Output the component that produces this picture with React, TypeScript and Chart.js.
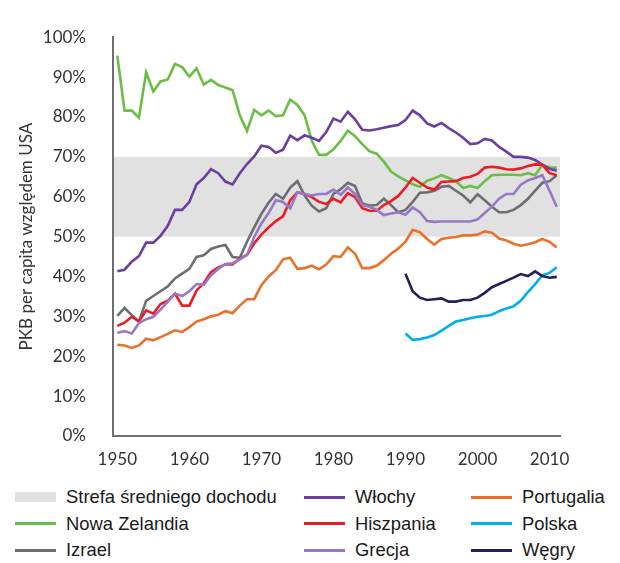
import React, { useEffect, useRef } from "react";
import { Chart, registerables } from "chart.js";

Chart.register(...registerables);

const YEARS = [
  1950, 1951, 1952, 1953, 1954, 1955, 1956, 1957, 1958, 1959,
  1960, 1961, 1962, 1963, 1964, 1965, 1966, 1967, 1968, 1969,
  1970, 1971, 1972, 1973, 1974, 1975, 1976, 1977, 1978, 1979,
  1980, 1981, 1982, 1983, 1984, 1985, 1986, 1987, 1988, 1989,
  1990, 1991, 1992, 1993, 1994, 1995, 1996, 1997, 1998, 1999,
  2000, 2001, 2002, 2003, 2004, 2005, 2006, 2007, 2008, 2009,
  2010, 2011,
];
const YEARS_FROM_1990 = [
  1990, 1991, 1992, 1993, 1994, 1995, 1996, 1997, 1998, 1999,
  2000, 2001, 2002, 2003, 2004, 2005, 2006, 2007, 2008, 2009,
  2010, 2011,
];
const X_TICKS = [1950, 1960, 1970, 1980, 1990, 2000, 2010];

const BAND_RANGE = [50, 70];

const NOWA_ZELANDIA = [
  95.4, 81.6, 81.6, 79.8, 91.2, 86.4, 88.9, 89.4, 93.3, 92.5,
  90.1, 92.2, 88.1, 89.3, 88.0, 87.4, 86.7, 80.4, 76.5, 81.8,
  80.4, 81.6, 80.2, 80.4, 84.4, 83.0, 80.4, 74.0, 70.5, 70.5,
  71.9, 74.0, 76.6, 75.2, 73.2, 71.4, 70.8, 68.8, 66.3, 65.1,
  64.1, 63.1, 62.5, 64.0, 64.6, 65.4, 64.7, 63.9, 62.2, 62.7,
  62.2, 63.9, 65.4, 65.5, 65.5, 65.5, 65.4, 65.9, 65.4, 68.0,
  67.4, 67.3,
];
const IZRAEL = [
  30.1, 32.1, 30.3, 28.7, 33.9, 35.1, 36.3, 37.5, 39.5, 40.7,
  41.9, 44.9, 45.3, 46.9, 47.5, 47.9, 44.9, 44.7, 48.7, 52.3,
  55.7, 58.5, 60.7, 59.5, 62.3, 63.9, 60.3, 57.7, 56.3, 57.1,
  60.7, 61.9, 63.5, 62.7, 58.3, 57.8, 57.9, 59.5, 57.9, 56.1,
  56.7, 58.7, 61.0, 61.1, 61.5, 62.5, 62.7, 61.5, 60.3, 58.6,
  60.6, 59.1, 57.5, 56.1, 56.1, 56.7, 57.9, 59.5, 61.5, 63.5,
  63.9, 65.4,
];
const WLOCHY = [
  41.3, 41.7, 43.7, 45.1, 48.5, 48.5, 50.2, 52.7, 56.7, 56.7,
  58.7, 63.1, 64.7, 66.9, 65.9, 63.8, 63.1, 65.9, 68.2, 70.1,
  72.8, 72.5, 71.0, 71.8, 75.3, 74.2, 75.4, 74.8, 74.0, 76.2,
  79.6, 78.8, 81.3, 79.4, 76.8, 76.6, 76.9, 77.3, 77.7, 78.0,
  79.2, 81.6, 80.4, 78.4, 77.6, 78.5, 77.2, 76.1, 74.8, 73.2,
  73.4, 74.5, 74.1, 72.5, 71.3, 70.0, 70.0, 69.8, 69.2, 68.0,
  67.0, 66.5,
];
const HISZPANIA = [
  27.6, 28.4, 29.9, 28.7, 31.5, 30.7, 33.1, 33.9, 35.7, 32.7,
  32.7, 36.5, 38.3, 41.1, 42.3, 43.0, 43.0, 44.5, 45.4, 48.3,
  50.5, 52.3, 53.9, 55.1, 59.1, 61.1, 60.7, 59.9, 58.7, 58.2,
  59.5, 58.6, 60.9, 59.9, 57.1, 56.5, 56.5, 57.9, 58.9, 60.2,
  62.3, 64.7, 63.5, 62.3, 61.8, 63.7, 63.8, 63.9, 64.7, 65.0,
  65.7, 67.3, 67.5, 67.3, 66.9, 66.8, 67.1, 67.7, 68.1, 68.0,
  65.9, 65.4,
];
const GRECJA = [
  25.9, 26.3, 25.7, 28.3, 29.3, 29.9, 31.7, 33.7, 35.7, 35.1,
  36.3, 38.1, 37.9, 40.3, 41.9, 43.1, 43.3, 44.3, 45.4, 49.9,
  53.3, 55.9, 59.1, 58.7, 57.1, 61.1, 60.7, 60.3, 60.7, 60.7,
  61.8, 60.5, 62.3, 60.7, 57.9, 57.5, 56.7, 55.4, 55.8, 56.1,
  55.5, 57.3, 56.1, 53.9, 53.7, 53.8, 53.8, 53.8, 53.8, 53.8,
  54.3, 55.9, 57.5, 59.5, 60.7, 60.7, 63.0, 64.1, 64.7, 65.4,
  61.5, 57.5,
];
const PORTUGALIA = [
  22.9, 22.7, 22.1, 22.7, 24.4, 24.0, 24.8, 25.6, 26.5, 26.1,
  27.3, 28.7, 29.3, 30.0, 30.4, 31.3, 30.8, 32.7, 34.3, 34.3,
  37.8, 40.0, 41.6, 44.3, 44.7, 41.9, 42.1, 42.7, 41.8, 43.0,
  45.1, 44.9, 47.3, 45.7, 42.1, 42.1, 42.7, 44.1, 45.7, 47.0,
  48.7, 51.7, 51.1, 49.4, 48.0, 49.4, 49.7, 49.9, 50.3, 50.3,
  50.5, 51.3, 51.0, 49.5, 49.0, 48.2, 47.7, 48.1, 48.6, 49.4,
  48.7, 47.3,
];
const POLSKA = [
  25.7, 24.1, 24.3, 24.7, 25.3, 26.4, 27.6, 28.7, 29.1, 29.5,
  29.9, 30.1, 30.4, 31.3, 32.0, 32.5, 33.9, 36.1, 38.1, 40.3,
  40.9, 42.3,
];
const WEGRY = [
  40.7, 36.3, 34.7, 34.1, 34.3, 34.5, 33.7, 33.7, 34.1, 34.1,
  34.7, 35.9, 37.3, 38.1, 38.9, 39.7, 40.6, 40.1, 41.3, 40.1,
  39.7, 39.9,
];

const BAND_LABEL = "Strefa średniego dochodu";
const BAND_COLOR = "#e1e1e1";
const AXIS_COLOR = "#6d6e71";
const Y_TITLE = "PKB per capita względem USA";

type Series = { label: string; years: number[]; values: number[]; color: string };

const SERIES: Series[] = [
  { label: "Nowa Zelandia", years: YEARS, values: NOWA_ZELANDIA, color: "#6cbd45" },
  { label: "Izrael", years: YEARS, values: IZRAEL, color: "#6d6e71" },
  { label: "Włochy", years: YEARS, values: WLOCHY, color: "#6c3f9e" },
  { label: "Hiszpania", years: YEARS, values: HISZPANIA, color: "#ed1c24" },
  { label: "Grecja", years: YEARS, values: GRECJA, color: "#9778c6" },
  { label: "Portugalia", years: YEARS, values: PORTUGALIA, color: "#e9712b" },
  { label: "Polska", years: YEARS_FROM_1990, values: POLSKA, color: "#00aeef" },
  { label: "Węgry", years: YEARS_FROM_1990, values: WEGRY, color: "#22205a" },
];

const LEGEND_COLUMNS: (string | null)[][] = [
  [null, "Nowa Zelandia", "Izrael"],
  ["Włochy", "Hiszpania", "Grecja"],
  ["Portugalia", "Polska", "Węgry"],
];

const bandPlugin = {
  id: "band",
  beforeDraw(chart: any) {
    const { ctx, chartArea, scales } = chart;
    const y = scales.y;
    const top = y.getPixelForValue(BAND_RANGE[1]);
    const bottom = y.getPixelForValue(BAND_RANGE[0]);
    ctx.save();
    ctx.fillStyle = BAND_COLOR;
    ctx.fillRect(chartArea.left, top, chartArea.right - chartArea.left, bottom - top);
    ctx.restore();
  },
};

function LegendItem({ label }: { label: string | null }) {
  const s = label ? SERIES.find((d) => d.label === label) : null;
  return (
    <div style={{ display: "flex", alignItems: "center", height: 26.5 }}>
      {s ? (
        <div style={{ width: 41, height: 3, background: s.color, marginRight: 10 }} />
      ) : (
        <div style={{ width: 41, height: 10, background: BAND_COLOR, marginRight: 10 }} />
      )}
      <span>{s ? s.label : BAND_LABEL}</span>
    </div>
  );
}

export default function App() {
  const ref = useRef<HTMLCanvasElement>(null);

  useEffect(() => {
    if (!ref.current) return;
    const datasets = SERIES.map((s, i) => ({
      label: s.label,
      data: s.years.map((yr, j) => ({ x: yr, y: s.values[j] })),
      borderColor: s.color,
      backgroundColor: s.color,
      borderWidth: 2.6,
      pointRadius: 0,
      tension: 0,
      fill: false,
      order: SERIES.length - i,
    }));
    const chart = new Chart(ref.current, {
      type: "line",
      data: { datasets },
      plugins: [bandPlugin],
      options: {
        animation: false,
        responsive: false,
        layout: { padding: { left: 0, right: 60, top: 20, bottom: 0 } },
        plugins: { legend: { display: false }, tooltip: { enabled: false } },
        scales: {
          x: {
            type: "linear",
            min: 1949.4,
            max: 2011.45,
            afterFit: (s: any) => {
              s.height = 44;
            },
            afterBuildTicks: (s: any) => {
              s.ticks = X_TICKS.map((v) => ({ value: v }));
            },
            ticks: {
              padding: 13,
              color: "#333333",
              font: { family: "Lato", size: 17 },
              callback: (v: any) => String(v),
              maxRotation: 0,
              autoSkip: false,
            },
            grid: { display: true, drawOnChartArea: false, drawTicks: false },
            border: { display: true, color: AXIS_COLOR, width: 2 },
          },
          y: {
            min: 0,
            max: 100,
            afterFit: (s: any) => {
              s.width = 113;
            },
            ticks: {
              stepSize: 10,
              padding: 27,
              color: "#333333",
              font: { family: "Lato", size: 17 },
              callback: (v: any) => v + "%",
            },
            title: {
              display: true,
              text: Y_TITLE,
              color: "#333333",
              font: { family: "Lato", size: 17 },
              padding: { top: 16, bottom: 0 },
            },
            grid: { display: true, drawOnChartArea: false, drawTicks: false },
            border: { display: true, color: AXIS_COLOR, width: 2 },
          },
        },
      },
    });
    return () => chart.destroy();
  }, []);

  return (
    <div
      style={{
        position: "absolute",
        left: 0,
        top: 0,
        width: 620,
        height: 563,
        background: "#ffffff",
        fontFamily: "'Liberation Sans', Arial, sans-serif",
      }}
    >
      <canvas ref={ref} width={620} height={480} style={{ display: "block" }} />
      <div
        style={{
          position: "absolute",
          left: 15,
          top: 484,
          display: "grid",
          gridTemplateColumns: "289px 167px auto",
          fontSize: 18.4,
          color: "#1a1a1a",
        }}
      >
        {LEGEND_COLUMNS.map((col, ci) => (
          <div key={ci}>
            {col.map((label, ri) => (
              <LegendItem key={ri} label={label} />
            ))}
          </div>
        ))}
      </div>
    </div>
  );
}
